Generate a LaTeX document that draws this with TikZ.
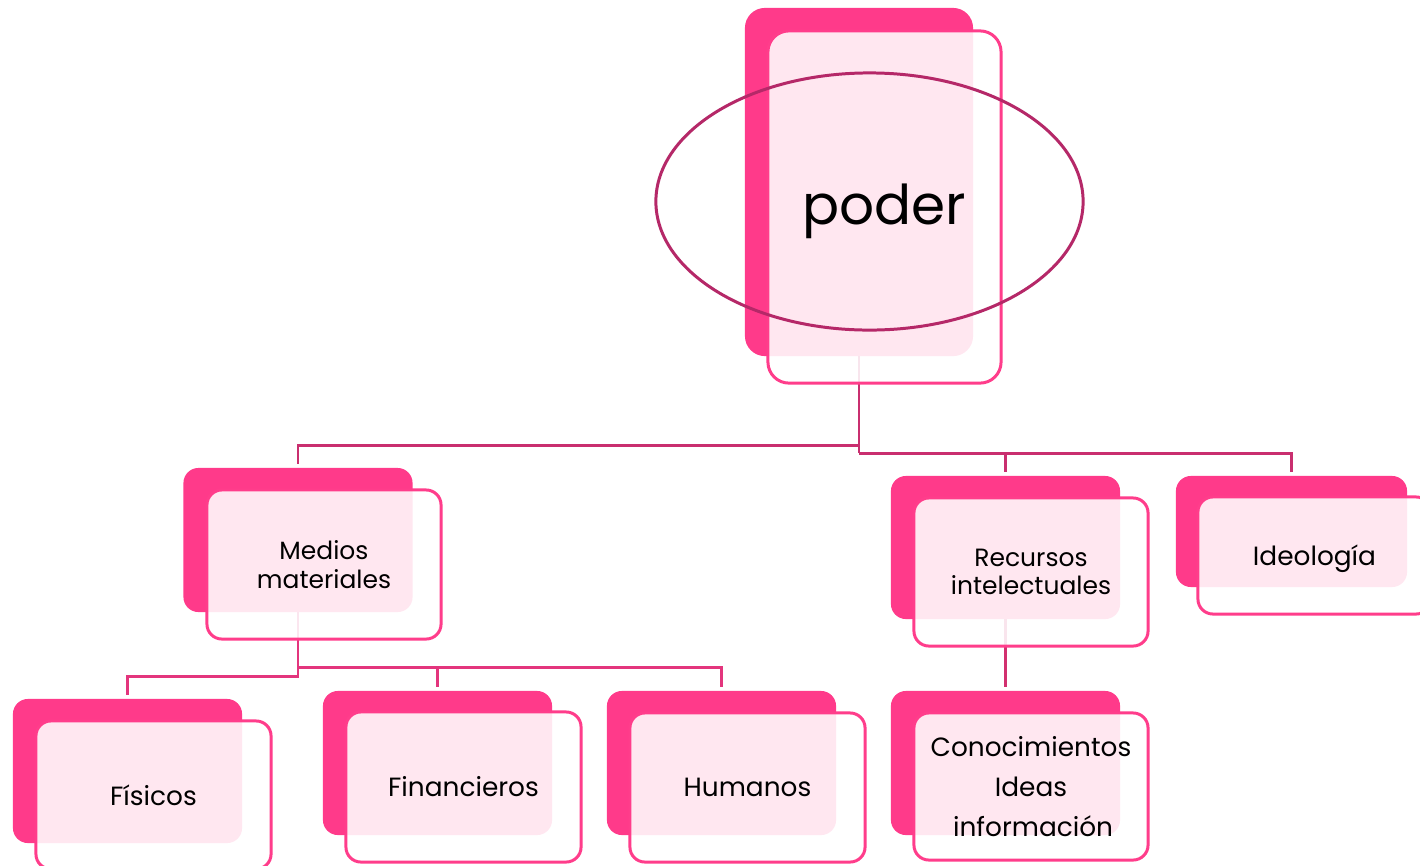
\documentclass[tikz,border=0pt]{standalone}
\usepackage{fontspec}
\setmainfont{Poppins}
\usetikzlibrary{shapes.geometric}
\definecolor{boxpink}{HTML}{FF3A8A}
\definecolor{edgepink}{HTML}{FF3D8B}
\definecolor{linetop}{HTML}{C92F6F}
\definecolor{linemid}{HTML}{E3357D}
\definecolor{linerec}{HTML}{D2306F}
\definecolor{ringcol}{HTML}{B52868}
\begin{document}
\begin{tikzpicture}[x=0.01cm,y=-0.01cm,
  backbox/.style={rectangle, rounded corners=0.15cm, fill=boxpink, inner sep=0pt, outer sep=0pt,
    minimum width=2.29cm, minimum height=1.44cm},
  frontbox/.style={rectangle, rounded corners=0.15cm, draw=edgepink, line width=0.85pt,
    fill=white, fill opacity=0.88, text opacity=1, text=black, inner sep=0pt, outer sep=0pt,
    minimum width=2.34cm, minimum height=1.49cm, align=center,
    font=\fontsize{7.5}{9.5}\selectfont},
  twoline/.style={font=\fontsize{7.1}{8.1}\selectfont},
  conn/.style={line width=0.85pt},
  gap/.style={shorten >=1.1pt}
]
\useasboundingbox (0,0) rectangle (1420,866);
\clip (0,0) rectangle (1420,866);
\fill[white] (0,0) rectangle (1420,866);

% back boxes
\node[backbox, rounded corners=0.2cm, minimum width=2.28cm, minimum height=3.48cm] (poderbg) at (859,182) {};
\node[backbox] (mediosbg) at (298,540) {};
\node[backbox, minimum height=1.43cm] (recbg) at (1005.5,547.5) {};
\node[backbox, minimum width=2.31cm, minimum height=1.11cm] (ideobg) at (1291.5,531.5) {};
\node[backbox] (fisbg) at (127.5,771) {};
\node[backbox] (finbg) at (437.5,763) {};
\node[backbox] (humbg) at (721.5,763) {};
\node[backbox] (conbg) at (1005.5,763) {};

% junctions
\coordinate (j1) at (859,445);
\coordinate (j2) at (859,453);
\coordinate (j3) at (298,667);
\coordinate (j4) at (298,676);

% connectors
\draw[conn, linetop] (poderbg.south) -- (j2);
\draw[conn, linetop, gap] (j1) -| (mediosbg.north);
\draw[conn, linetop, gap] (j2) -| (recbg.north);
\draw[conn, linetop, gap] (j2) -| (ideobg.north);
\draw[conn, linemid, gap] (mediosbg.south) -- (j4) -| (fisbg.north);
\draw[conn, linemid, gap] (j3) -| (finbg.north);
\draw[conn, linemid, gap] (j3) -| (humbg.north);
\draw[conn, linerec, gap] (recbg.south) -- (conbg.north);

% front boxes
\node[frontbox, rounded corners=0.21cm, minimum width=2.33cm, minimum height=3.52cm,
  font=\fontsize{15.6}{18}\selectfont] (poder) at (884.5,207) {\raisebox{-1.2pt}[\height][\depth]{poder}};
\node[frontbox, twoline] (medios) at (324,564.5) {Medios\\materiales};
\node[frontbox, twoline, minimum height=1.48cm] (rec) at (1031,572) {Recursos\\intelectuales};
\node[frontbox, minimum width=2.33cm, minimum height=1.17cm] (ideo) at (1314.5,555.5) {\raisebox{-0.8pt}[\height][\depth]{Ideología}};
\node[frontbox, minimum width=2.35cm, minimum height=1.48cm] (fis) at (153.5,795) {Físicos};
\node[frontbox, minimum width=2.35cm, minimum height=1.50cm] (fin) at (463.5,787) {Financieros};
\node[frontbox, minimum width=2.35cm, minimum height=1.49cm] (hum) at (747.5,787.5) {Humanos};
\node[frontbox, minimum height=1.47cm, font=\fontsize{7.5}{11.4}\selectfont] (con) at (1031,786.5)
  {Conocimientos\\Ideas\\\hspace*{1.2pt}información};

% ring around the root
\node[draw=ringcol, line width=0.85pt, ellipse, inner sep=0pt,
  minimum width=4.27cm, minimum height=2.57cm] (ring) at (869.5,201.5) {};
\end{tikzpicture}
\end{document}
